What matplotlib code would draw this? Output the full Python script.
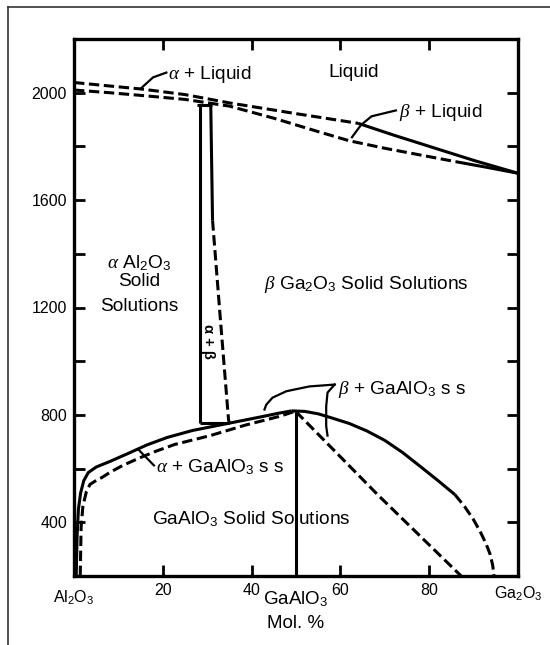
import matplotlib
matplotlib.use("Agg")
import matplotlib.pyplot as plt
from matplotlib.lines import Line2D

plt.rcParams["font.family"] = ["Liberation Sans", "DejaVu Sans"]
plt.rcParams["mathtext.fontset"] = "custom"
plt.rcParams["mathtext.rm"] = "Liberation Sans"
plt.rcParams["mathtext.it"] = "Liberation Serif:italic"
plt.rcParams["mathtext.bf"] = "Liberation Sans:bold"

# ---- phase boundaries (mol % Ga2O3, temperature in deg C) ----
liquidus_x = [0, 8, 15, 25, 35, 50, 64]
liquidus_y = [2038, 2025, 2014, 1993, 1962, 1922, 1886]
liquidus_solid_x = [64, 72, 81, 90, 100]
liquidus_solid_y = [1886, 1842, 1795, 1748, 1700]

solidus_x = [0, 8, 15, 25, 35, 45, 55, 62, 70, 78, 86]
solidus_y = [2010, 2000, 1990, 1975, 1950, 1905, 1855, 1821, 1793, 1768, 1743]
solidus_solid_x = [86, 93, 100]
solidus_solid_y = [1743, 1722, 1700]

# alpha + beta two-phase band
ab_left_x = [28.3, 28.3]
ab_left_y = [768, 1956]
ab_top_x = [27.6, 31.0]
ab_top_y = [1956, 1956]
ab_right_solid_x = [30.8, 31.2]
ab_right_solid_y = [1956, 1525]
ab_right_dash_x = [31.2, 33.0, 34.8, 35.0]
ab_right_dash_y = [1525, 1150, 783, 768]
eutectoid_x = [28.3, 35.0]
eutectoid_y = [768, 768]

# GaAlO3 dome, outer (solid) boundary
dome_left_x = [0.5, 0.7, 1.0, 1.5, 2.2, 3.2, 5.0, 8.0, 12.0, 16.4, 21.0,
               26.7, 34.6, 42.5, 46.0, 49.0]
dome_left_y = [200, 350, 450, 510, 555, 585, 606, 626, 655, 688, 716,
               742, 768, 794, 806, 815]
dome_right_x = [49.0, 52.0, 55.0, 58.2, 62.0, 66.0, 70.0, 74.0, 78.0, 82.0, 85.8]
dome_right_y = [815, 813, 804, 788, 768, 740, 705, 660, 608, 555, 503]
dome_tail_x = [85.8, 88.0, 89.9, 91.5, 92.8, 93.7, 94.3, 94.6]
dome_tail_y = [503, 458, 412, 365, 320, 282, 240, 200]
corner_x = [0, 2.0]
corner_y = [600, 600]

# GaAlO3 solid-solution limits (dashed)
gaalo3_left_x = [1.4, 1.6, 2.0, 2.8, 3.6, 5.0, 6.3, 8.1, 11.0, 14.8, 18.5,
                 22.7, 30.7, 38.6, 46.4, 49.5]
gaalo3_left_y = [200, 380, 460, 515, 541, 556, 567, 586, 612, 640, 665,
                 690, 723, 762, 795, 812]
gaalo3_right_x = [50.0, 68.5, 87.2]
gaalo3_right_y = [812, 501, 200]

# GaAlO3 composition line
gaalo3_line_x = [50, 50]
gaalo3_line_y = [200, 815]

# leader lines for labels
lead_aliq_x = [20.8, 17.8, 15.2]
lead_aliq_y = [2075, 2057, 2018]
lead_bliq_x = [72.5, 67.0, 64.6, 62.6]
lead_bliq_y = [1934, 1912, 1879, 1834]
lead_bga_left_x = [58.7, 53.0, 47.8, 44.7, 43.3, 42.9]
lead_bga_left_y = [913, 906, 888, 864, 838, 820]
lead_bga_right_x = [58.7, 57.1, 56.8, 56.8, 57.1]
lead_bga_right_y = [913, 883, 832, 758, 723]
lead_aga_x = [18.0, 14.5]
lead_aga_y = [612, 671]

# axis ticks and labels
xticks = [20, 40, 60, 80]
xtick_labels = ["20", "40", "60", "80"]
yticks_minor = [400, 600, 800, 1000, 1200, 1400, 1600, 1800, 2000]
yticks_major = [400, 800, 1200, 1600, 2000]
ytick_labels = ["400", "800", "1200", "1600", "2000"]
end_labels = ["Al$_2$O$_3$", "GaAlO$_3$", "Ga$_2$O$_3$"]
end_positions = [0, 50, 100]

fig = plt.figure(figsize=(5.5, 6.45), dpi=100)
ax = fig.add_axes([74 / 550, 1 - 576 / 645, 444 / 550, 537 / 645])

LW = 2.2
DASH = (0, (3.4, 1.5))
k = dict(color="black", lw=LW, solid_capstyle="butt", solid_joinstyle="round")

ax.plot(liquidus_x, liquidus_y, linestyle=DASH, **k)
ax.plot(liquidus_solid_x, liquidus_solid_y, **k)
ax.plot(solidus_x, solidus_y, linestyle=DASH, **k)
ax.plot(solidus_solid_x, solidus_solid_y, **k)

ax.plot(ab_left_x, ab_left_y, **k)
ax.plot(ab_top_x, ab_top_y, **k)
ax.plot(ab_right_solid_x, ab_right_solid_y, **k)
ax.plot(ab_right_dash_x, ab_right_dash_y, linestyle=DASH, **k)
ax.plot(eutectoid_x, eutectoid_y, **k)

ax.plot(dome_left_x, dome_left_y, **k)
ax.plot(dome_right_x, dome_right_y, **k)
ax.plot(dome_tail_x, dome_tail_y, linestyle=DASH, **k)
ax.plot(corner_x, corner_y, color="black", lw=1.0)

ax.plot(gaalo3_left_x, gaalo3_left_y, linestyle=DASH, **k)
ax.plot(gaalo3_right_x, gaalo3_right_y, linestyle=DASH, **k)
ax.plot(gaalo3_line_x, gaalo3_line_y, **k)

lk = dict(color="black", lw=1.6)
ax.plot(lead_aliq_x, lead_aliq_y, **lk)
ax.plot(lead_bliq_x, lead_bliq_y, **lk)
ax.plot(lead_bga_left_x, lead_bga_left_y, **lk)
ax.plot(lead_bga_right_x, lead_bga_right_y, **lk)
ax.plot(lead_aga_x, lead_aga_y, **lk)

FS = 13.8
ax.text(21.2, 2068, r"$\it{\alpha}$ + Liquid", fontsize=FS, va="center", ha="left")
ax.text(63.0, 2075, "Liquid", fontsize=FS, va="center", ha="center")
ax.text(73.3, 1926, r"$\it{\beta}$ + Liquid", fontsize=FS, va="center", ha="left")
ax.text(14.6, 1367, r"$\it{\alpha}$ Al$_2$O$_3$", fontsize=FS, va="center", ha="center")
ax.text(14.6, 1295, "Solid", fontsize=FS, va="center", ha="center")
ax.text(14.6, 1205, "Solutions", fontsize=FS, va="center", ha="center")
ax.text(65.8, 1284, r"$\it{\beta}$ Ga$_2$O$_3$ Solid Solutions", fontsize=FS,
        va="center", ha="center")
ax.text(30.1, 1072, "α + β", fontsize=10.5, fontweight="bold",
        rotation=-90, va="center", ha="center")
ax.text(59.4, 893, r"$\it{\beta}$ + GaAlO$_3$ s s", fontsize=FS, va="center", ha="left")
ax.text(18.4, 605, r"$\it{\alpha}$ + GaAlO$_3$ s s", fontsize=FS, va="center", ha="left")
ax.text(40.0, 410, "GaAlO$_3$ Solid Solutions", fontsize=FS, va="center", ha="center")

ax.set_xlim(0, 100)
ax.set_ylim(200, 2200)

ax.set_xticks(xticks)
ax.set_xticklabels(xtick_labels)
ax.set_yticks(yticks_minor, minor=True)
ax.set_yticks(yticks_major)
ax.set_yticklabels(ytick_labels)
ax.tick_params(axis="both", which="both", direction="in", length=8, width=2,
               top=True, right=True, labelsize=11.5, pad=5)
for side in ax.spines.values():
    side.set_linewidth(2.4)

# composition end-member labels below the axis
ax.text(end_positions[0], -0.04, end_labels[0], transform=ax.get_xaxis_transform(),
        fontsize=11.5, ha="center", va="center")
ax.text(end_positions[1], -0.043, end_labels[1], transform=ax.get_xaxis_transform(),
        fontsize=13.5, ha="center", va="center")
ax.text(end_positions[2], -0.033, end_labels[2], transform=ax.get_xaxis_transform(),
        fontsize=11.5, ha="center", va="center")
ax.text(50, -0.088, "Mol. %", transform=ax.get_xaxis_transform(),
        fontsize=13.5, ha="center", va="center")

# page frame
fig.add_artist(Line2D([8 / 550, 1], [1 - 7 / 645, 1 - 7 / 645],
                      transform=fig.transFigure, color="#333333", lw=1.2))
fig.add_artist(Line2D([8 / 550, 8 / 550], [0, 1 - 7 / 645],
                      transform=fig.transFigure, color="#333333", lw=1.2))

fig.savefig("out.png", dpi=100)
